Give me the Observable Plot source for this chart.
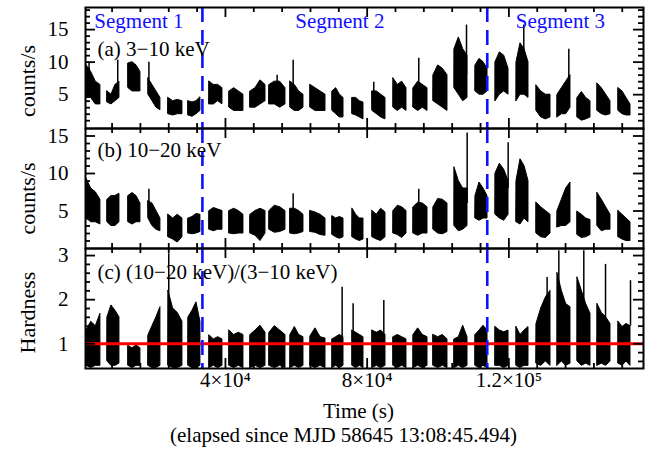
<!DOCTYPE html>
<html><head><meta charset="utf-8">
<script src="https://cdn.jsdelivr.net/npm/d3@7"></script>
<script src="https://cdn.jsdelivr.net/npm/@observablehq/plot@0.6"></script>
<style>
html,body{margin:0;padding:0;background:#fff;}
#chart svg{display:block;overflow:visible;background:transparent;}
#chart svg, #chart svg text, #chart svg tspan{font-family:'Liberation Serif','Times New Roman',serif !important;}
</style></head><body><div id="chart"></div>
<script>
// ---- data ----
const timeDomain = [500, 158000];
const segmentBounds = [33500, 113900];
const segmentLabels = ["Segment 1", "Segment 2", "Segment 3"];
const xTicks = [40000, 80000, 120000];
const xTickLabels = ["4×10⁴", "8×10⁴", "1.2×10⁵"];
const panelLabels = ["(a) 3−10 keV", "(b) 10−20 keV", "(c) (10−20 keV)/(3−10 keV)"];
const yLabels = ["counts/s", "counts/s", "Hardness"];
const xLabel = "Time (s)";
const xSubLabel = "(elapsed since MJD 58645 13:08:45.494)";

// good-time intervals (orbits), seconds
const chunkStart = [800, 6690, 12620, 18260, 23910, 29560, 35490, 41130, 47060, 52420, 58350, 64000, 70210, 75860, 81500, 87430, 93080, 98720, 104650, 110580, 116230, 122150, 127800, 133720, 139370, 145010, 150940];
const chunkEnd   = [4710, 10080, 16010, 21650, 27860, 32940, 39160, 45080, 51300, 56940, 62020, 68240, 73320, 78960, 85170, 91100, 97030, 102670, 108320, 113970, 119900, 125540, 131750, 137390, 143040, 148680, 154330];

// (a) 3-10 keV envelope (upper / lower) per orbit
const softHi = [[9.5,8.5,7,6.5],[5.5,5,6.5,7],[9.8,10,9.5,8.5],[7.5,6.5,5.5,4.5],[4.5,4,4.2,4],[4,3.8,4,4.6],[7,6.5,6.5,6],[5.5,6,5.5,5],[5.5,6,7.2,6.5],[6.5,7,7,6],[7,6.5,5.5,5],[6.5,6,5.5,5],[5.5,6,5,4.5],[4.5,4.5,4,3.8],[5.5,5.5,5,4.5],[7.5,6.5,7,6],[6,7,6.5,6],[8,9.5,9,8],[12,13.8,12,11],[9.5,10.5,10,9],[10,11.5,11,9],[10,12.9,12,10],[6.4,5.5,5,5],[5,6,7,8],[4.5,5.4,4.5,4],[6.7,6,5,4],[6,5.5,4.5,3.5]];
const softLo = [[4.5,4.5,3.5,3.5],[3.8,3.5,4,4.5],[6,5.5,5.5,5.5],[5,4,3,2.6],[2,1.8,2,2],[1.8,1.6,2,2.5],[3.5,3.5,4,3.5],[3,2.5,2.5,2.5],[3,3,3.5,4],[3.5,3.5,3,3.5],[3,2.5,2.5,3],[3,2.5,2.5,2.5],[2.5,2,1.5,1.5],[2,1.8,1.5,1.2],[2.5,2,1.5,1.2],[3,2.5,3,2.5],[3,2.5,3,2.5],[4,3.5,3,2.5],[6,5,4,4.5],[5.5,5,5,5.5],[4,5,5.5,5],[4,5,5,4.5],[2.5,1.5,1.2,1.5],[1.5,2,2,3],[1.5,1,1.2,1.5],[2.5,2,1.8,2],[2.5,2,1.8,1.8]];
const softSpikes = [[1500,6,10],[9600,5,10.3],[18400,5,10],[54590,5,8],[59110,5,10.3],[81870,4,6.9],[94570,5,10.6],[108040,8,15.7],[124210,8,15.7],[136920,6,12]];

// (b) 10-20 keV
const hardHi = [[9.3,8,7.5,6.5],[6.5,7,7,7.3],[7,7.4,7,6],[6.3,6,5,4],[4.5,4,4.5,4],[4,4.2,4.6,4.5],[5,5.4,5.2,5],[5,5.3,5,4.5],[4.5,5,5.3,5],[5,5.7,5.5,5],[5.3,5.3,5,4.5],[5,4.8,4.5,4],[4.3,4,4.2,4],[5.3,4.5,4,4],[5,4.5,5.3,4.8],[5,5.7,5.5,5],[5.5,6.1,6,5.5],[5.5,6.6,6.5,6],[10.8,9,8,8],[7,8.8,8,7],[10,11.3,10.5,9],[9,11.9,11,9],[6.1,5.5,5,4.5],[5,6.5,8,8.8],[4.9,4.5,4,3.8],[7.4,6.5,5.5,4.5],[5,4.5,4,3.5]];
const hardLo = [[4,3.5,3.5,3.2],[3.5,3,3,3.5],[3.5,3.2,3.5,3.5],[4,3,2.5,2.3],[1.5,1.2,0.8,1.5],[2,1.9,2,2.2],[2.5,2.3,2.5,2.5],[2,1.9,2,2],[2,1.7,1,2],[2.5,2.1,2.2,2.5],[2,1.9,2,2.2],[2.2,2.1,1.8,1.7],[1.8,1.5,1.3,1.5],[1.5,1.2,1,1.2],[1.5,1.2,1,1.5],[2,1.8,1.4,2],[2,1.7,2,2],[2.5,2,1.9,2.2],[3,2.3,2.5,3],[4,3.7,4,4],[4.5,4,3.7,4.5],[3.5,3.2,4,3.5],[2,1.5,1.4,2],[2.8,3,3,3.5],[1.8,1.4,1.5,1.8],[3,2.3,2.5,2.5],[1.5,1.2,1,1]];
const hardSpikes = [[18400,5,7.9],[59110,4,7.3],[94570,4,7.9],[108230,6,15.4],[119800,8,14.1]];

// (c) hardness ratio
const ratioHi = [[1.3,1.5,1.4,1.68],[1.6,1.87,1.75,1.6],[0.95,0.9,0.96,0.9],[1.19,1.4,1.6,1.83],[2.2,1.8,1.7,1.5],[1.6,1.75,1.94,1.5],[1.19,1.1,1.15,1.1],[1.3,1.2,1.25,1.2],[1.2,1.3,1.41,1.25],[1.25,1.4,1.3,1.2],[1.2,1.38,1.2,1.15],[1.17,1.35,1.15,1.12],[1.1,1.15,1.2,1.15],[1.3,1.25,1.2,1.15],[1.3,1.25,1.3,1.2],[1.15,1.2,1.15,1.1],[1.2,1.35,1.2,1.15],[1.2,1.15,1.2,1.1],[1.1,1.15,1.41,1.15],[1.2,1.3,1.41,1.3],[1.38,1.3,1.26,1.3],[1.38,1.2,1.3,1.38],[1.45,1.8,2.05,2.2],[2.6,2.2,1.9,1.83],[2.5,2.2,1.9,1.68],[1.9,1.7,1.6,1.45],[1.5,1.38,1.45,1.4]];
const ratioLo = [[0.5,0.45,0.5,0.5],[0.6,0.5,0.5,0.55],[0.5,0.45,0.5,0.5],[0.5,0.45,0.45,0.5],[0.5,0.45,0.45,0.5],[0.5,0.45,0.45,0.5],[0.45,0.5,0.45,0.5],[0.5,0.45,0.5,0.45],[0.45,0.5,0.45,0.5],[0.5,0.45,0.5,0.45],[0.45,0.5,0.45,0.5],[0.5,0.45,0.5,0.45],[0.45,0.5,0.45,0.5],[0.5,0.45,0.5,0.45],[0.45,0.5,0.45,0.5],[0.5,0.45,0.5,0.45],[0.45,0.5,0.45,0.5],[0.5,0.45,0.5,0.45],[0.45,0.5,0.45,0.5],[0.5,0.45,0.5,0.45],[0.5,0.5,0.45,0.5],[0.5,0.45,0.5,0.5],[0.55,0.5,0.6,0.5],[0.5,0.6,0.5,0.55],[0.6,0.5,0.55,0.5],[0.5,0.55,0.5,0.6],[0.55,0.5,0.6,0.5]];
const ratioSpikes = [[24000,1.5,3.04],[72940,1.1,2.28],[76040,1.1,1.91],[84700,1.1,1.98],[130800,1.8,2.5],[134100,2,3.11],[141150,2,3.11],[147280,1.6,2.8],[154330,1.4,2.43]];
const refHardness = [1];

// ---- build ----
const W = 656, ML = 85, MR = 13;
const font = "'Liberation Serif', 'Times New Roman', serif";
const FS = 21;

function rows(hi, lo) {
  const out = [];
  chunkStart.forEach((t0, i) => {
    const t1 = chunkEnd[i], n = hi[i].length;
    hi[i].forEach((h, j) => out.push({chunk: i, t: t0 + (t1 - t0) * j / (n - 1), hi: h, lo: lo[i][j]}));
  });
  return out;
}

const xMinor = d3.range(8000, timeDomain[1], 8000).filter(d => d % 40000 !== 0);

function frameTicks(yMaj, yMin, innerH) {
  const innerW = W - ML - MR, LM = 10, Lm = 5, sw = 1.8;
  return [
    Plot.tickX(xTicks, {x: d => d, insetTop: innerH - LM, strokeWidth: sw}),
    Plot.tickX(xTicks, {x: d => d, insetBottom: innerH - LM, strokeWidth: sw}),
    Plot.tickX(xMinor, {x: d => d, insetTop: innerH - Lm, strokeWidth: sw}),
    Plot.tickX(xMinor, {x: d => d, insetBottom: innerH - Lm, strokeWidth: sw}),
    Plot.tickY(yMaj, {y: d => d, insetRight: innerW - LM, strokeWidth: sw}),
    Plot.tickY(yMaj, {y: d => d, insetLeft: innerW - LM, strokeWidth: sw}),
    Plot.tickY(yMin, {y: d => d, insetRight: innerW - Lm, strokeWidth: sw}),
    Plot.tickY(yMin, {y: d => d, insetLeft: innerW - Lm, strokeWidth: sw})
  ];
}

function dataMarks(hi, lo, spikes) {
  return [
    Plot.areaY(rows(hi, lo), {x: "t", y1: "lo", y2: "hi", z: "chunk", fill: "black", stroke: "black", strokeWidth: 1, clip: true}),
    Plot.ruleX(spikes, {x: d => d[0], y1: d => d[1], y2: d => d[2], stroke: "black", strokeWidth: 1.5, clip: true})
  ];
}

const segRule = () => Plot.ruleX(segmentBounds, {x: d => d, stroke: "#1010ff", strokeWidth: 2.6, strokeDasharray: "15,8"});

const segEdges = [timeDomain[0], ...segmentBounds, timeDomain[1]];
const segMid = segmentLabels.map((s, i) => ({label: s, t: (segEdges[i] + segEdges[i + 1]) / 2}));

const baseStyle = {fontFamily: font, fontSize: FS + "px", overflow: "visible", background: "transparent", color: "black"};

function panel({height, marginTop, marginBottom, yDomain, yMaj, yMin, hi, lo, spikes, label, labelDy, ylabel, ylabelDy, extra = [], pre = []}) {
  const innerH = height - marginTop - marginBottom;
  return Plot.plot({
    width: W, height, marginLeft: ML, marginRight: MR, marginTop, marginBottom,
    x: {domain: timeDomain, axis: null},
    y: {domain: yDomain, axis: null},
    style: baseStyle,
    marks: [
      ...dataMarks(hi, lo, spikes),
      ...pre,
      segRule(),
      ...frameTicks(yMaj, yMin, innerH),
      Plot.frame({stroke: "black", strokeWidth: 2}),
      Plot.axisY({ticks: yMaj, tickFormat: d => String(d), tickSize: 0, tickPadding: 17, label: null, fontSize: FS}),
      Plot.text([label], {frameAnchor: "top-left", textAnchor: "start", lineAnchor: "bottom", dx: 12, dy: labelDy, fontSize: FS}),
      Plot.text([ylabel], {frameAnchor: "left", rotate: -90, textAnchor: "middle", lineAnchor: "middle", dx: -58, dy: ylabelDy, fontSize: 22}),
      ...extra
    ]
  });
}

const chart = document.getElementById("chart");

chart.append(panel({
  height: 128, marginTop: 7, marginBottom: 0, yDomain: [-0.2, 18.4],
  yMaj: [5, 10, 15], yMin: d3.range(1, 19).filter(d => d % 5 !== 0),
  hi: softHi, lo: softLo, spikes: softSpikes, label: panelLabels[0], labelDy: 48,
  ylabel: yLabels[0], ylabelDy: 13,
  extra: [Plot.text(segMid, {x: "t", text: "label", frameAnchor: "top", lineAnchor: "bottom", dy: 20, dx: -5, fill: "#1010ff", fontSize: FS})]
}));

chart.append(panel({
  height: 120, marginTop: 0, marginBottom: 0, yDomain: [0, 16],
  yMaj: [5, 10, 15], yMin: d3.range(1, 16).filter(d => d % 5 !== 0),
  hi: hardHi, lo: hardLo, spikes: hardSpikes, label: panelLabels[1], labelDy: 28,
  ylabel: yLabels[1], ylabelDy: 10
}));

chart.append(panel({
  height: 204, marginTop: 0, marginBottom: 84, yDomain: [0.44, 3.16],
  yMaj: [1, 2, 3], yMin: d3.range(6, 30, 2).filter(d => d % 10 !== 0).map(d => d / 10),
  hi: ratioHi, lo: ratioLo, spikes: ratioSpikes, label: panelLabels[2], labelDy: 30,
  ylabel: yLabels[2], ylabelDy: 4,
  pre: [Plot.ruleY(refHardness, {y: d => d, stroke: "#ff0000", strokeWidth: 3})],
  extra: [
    Plot.axisX({ticks: xTicks, tickFormat: d => xTickLabels[xTicks.indexOf(d)], tickSize: 0, tickPadding: 4, label: null, fontSize: FS}),
    Plot.text([xLabel], {frameAnchor: "bottom", lineAnchor: "bottom", dy: 49, dx: -6, fontSize: FS}),
    Plot.text([xSubLabel], {frameAnchor: "bottom", lineAnchor: "bottom", dy: 73, dx: -21, fontSize: FS})
  ]
}));
</script></body></html>
